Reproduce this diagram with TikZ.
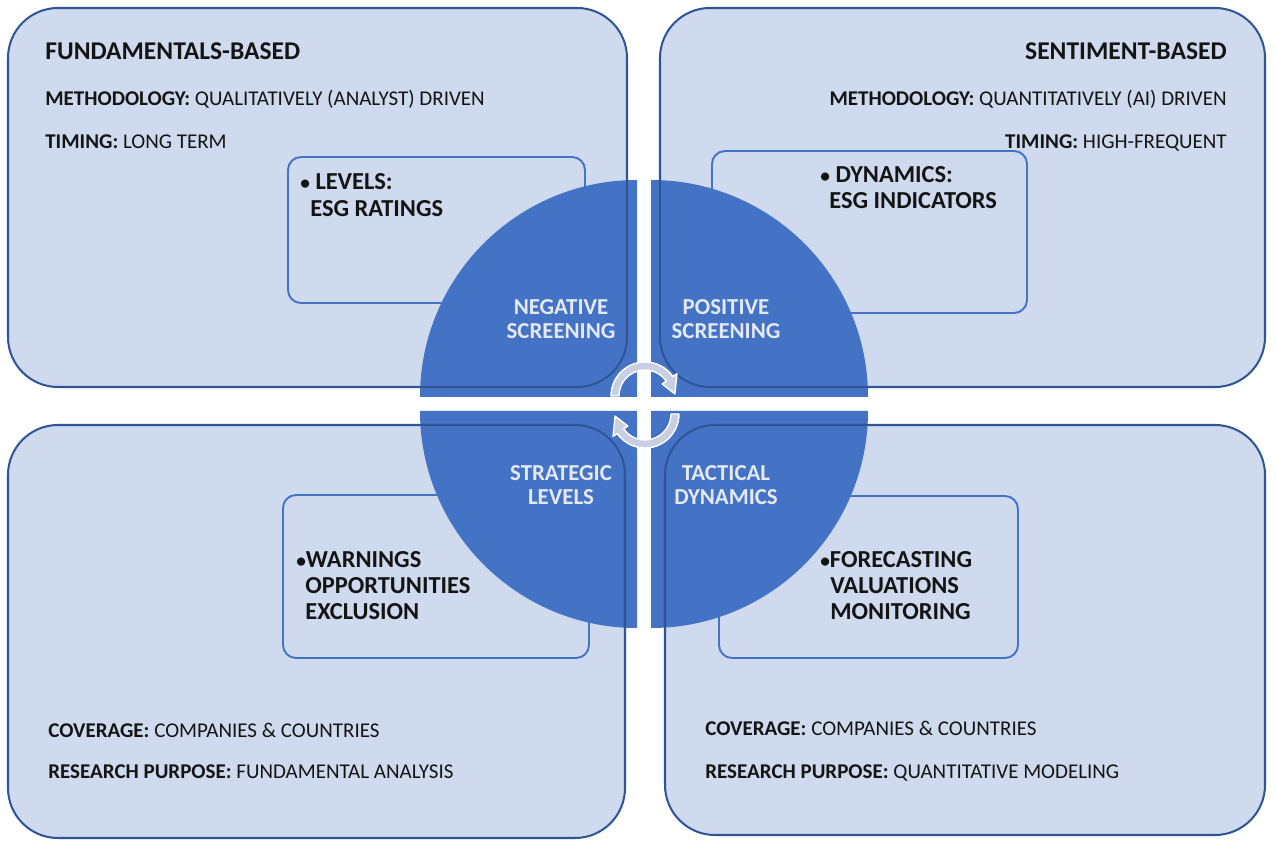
\documentclass[tikz,border=0pt]{standalone}
\usepackage{fontspec}
\setmainfont{Carlito}
\definecolor{boxfill}{HTML}{CFDAEE}
\definecolor{boxline}{HTML}{2F5597}
\definecolor{accent}{HTML}{4472C4}
\definecolor{quadtext}{HTML}{E4E9F3}
\definecolor{arrowfill}{HTML}{C9CFE2}
\definecolor{ink}{HTML}{141414}
\newcommand{\smallbullet}{{\fontsize{11}{11}\selectfont •}}
\tikzset{
  bigfill/.style={fill=boxfill, rounded corners=1cm},
  bigline/.style={draw=boxline, line width=1.15pt, rounded corners=1cm},
  innerbox/.style={draw=accent, line width=1.1pt, rounded corners=0.26cm},
  quad/.style={fill=accent},
  heading/.style={font=\fontsize{14.55}{17}\selectfont\bfseries, text=ink, inner sep=0pt},
  info/.style={font=\fontsize{11.95}{14}\selectfont, text=ink, inner sep=0pt},
  item/.style={font=\fontsize{13.9}{16}\selectfont\bfseries, text=ink, inner sep=0pt},
  quadlabel/.style={font=\fontsize{13}{13.6}\selectfont\bfseries, text=quadtext, align=center, inner sep=0pt},
  cyclearrow/.style={fill=arrowfill, draw=white, line width=0.8pt, line join=round}
}
\begin{document}
\begin{tikzpicture}[x=0.02cm,y=0.02cm]
\useasboundingbox (0,0) rectangle (1276,846);
\fill[white] (0,0) rectangle (1276,846);

% panel backgrounds
\path[bigfill] (8,459) rectangle (627,838);
\path[bigfill] (660,459) rectangle (1265,838);
\path[bigfill] (8,8) rectangle (625,421);
\path[bigfill] (665,11) rectangle (1265,421);

% inner boxes
\draw[innerbox] (288,543) rectangle (585,689);
\draw[innerbox] (712,533) rectangle (1027,695);
\draw[innerbox] (283,188) rectangle (589,351);
\draw[innerbox] (719,188) rectangle (1018,350);

% inner box texts
\node[item, anchor=base west] (lv1) at (300,656) {\smallbullet\ LEVELS:};
\node[item, anchor=base west] (lv2) at (310,629) {ESG RATINGS};
\node[item, anchor=base west] (dy1) at (820,663) {\smallbullet\ DYNAMICS:};
\node[item, anchor=base west] (dy2) at (829,637) {ESG INDICATORS};
\node[item, anchor=base west] (wa1) at (296,278) {\smallbullet WARNINGS};
\node[item, anchor=base west] (wa2) at (305,252) {OPPORTUNITIES};
\node[item, anchor=base west] (wa3) at (305,226) {EXCLUSION};
\node[item, anchor=base west] (fc1) at (820,278) {\smallbullet FORECASTING};
\node[item, anchor=base west] (fc2) at (830,252) {VALUATIONS};
\node[item, anchor=base west] (fc3) at (830,226) {MONITORING};

% central disc split into four quadrants
\fill[quad] (637,449) -- ++(-217,0) arc (180:90:217) -- cycle;
\fill[quad] (651,449) -- ++(0,217) arc (90:0:217) -- cycle;
\fill[quad] (637,435) -- ++(-217,0) arc (180:270:217) -- cycle;
\fill[quad] (651,435) -- ++(217,0) arc (0:-90:217) -- cycle;

% panel outlines on top of the disc
\path[bigline] (8,459) rectangle (627,838);
\path[bigline] (660,459) rectangle (1265,838);
\path[bigline] (8,8) rectangle (625,421);
\path[bigline] (665,11) rectangle (1265,421);

% quadrant labels
\node[quadlabel] (neg) at (561,527) {NEGATIVE\\SCREENING};
\node[quadlabel] (pos) at (726,527) {POSITIVE\\SCREENING};
\node[quadlabel] (str) at (561,361) {STRATEGIC\\LEVELS};
\node[quadlabel] (tac) at (726,361) {TACTICAL\\DYNAMICS};

% circular arrows in the middle
\begin{scope}[shift={(645,450)}]
  \draw[cyclearrow] (180:34) arc (180:35:34) -- (35:39) -- (4:30) -- (35:21) -- (35:26) arc (35:180:26) -- cycle;
\end{scope}
\begin{scope}[shift={(645,432)}]
  \draw[cyclearrow] (0:34) arc (0:-145:34) -- (-145:39) -- (-176:30) -- (-145:21) -- (-145:26) arc (-145:0:26) -- cycle;
\end{scope}

% panel texts
\node[heading, anchor=base west] (fb) at (45,786) {FUNDAMENTALS-BASED};
\node[info, anchor=base west] (fbm) at (45,740) {\textbf{METHODOLOGY:} QUALITATIVELY (ANALYST) DRIVEN};
\node[info, anchor=base west] (fbt) at (45,697) {\textbf{TIMING:} LONG TERM};

\node[heading, anchor=base east] (sb) at (1227,786) {SENTIMENT-BASED};
\node[info, anchor=base east] (sbm) at (1227,740) {\textbf{METHODOLOGY:} QUANTITATIVELY (AI) DRIVEN};
\node[info, anchor=base east] (sbt) at (1227,697) {\textbf{TIMING:} HIGH-FREQUENT};

\node[info, anchor=base west] (blc) at (48,108) {\textbf{COVERAGE:} COMPANIES \& COUNTRIES};
\node[info, anchor=base west] (blr) at (48,67) {\textbf{RESEARCH PURPOSE:} FUNDAMENTAL ANALYSIS};

\node[info, anchor=base west] (brc) at (705,110) {\textbf{COVERAGE:} COMPANIES \& COUNTRIES};
\node[info, anchor=base west] (brr) at (705,67) {\textbf{RESEARCH PURPOSE:} QUANTITATIVE MODELING};
\end{tikzpicture}
\end{document}
